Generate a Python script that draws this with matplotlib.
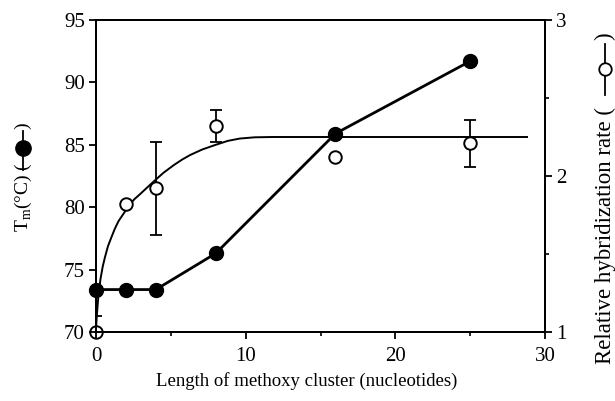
import matplotlib
matplotlib.use("Agg")
import matplotlib.pyplot as plt
from matplotlib.lines import Line2D

plt.rcParams['font.family'] = ['Liberation Serif', 'DejaVu Serif']
plt.rcParams['mathtext.fontset'] = 'custom'
plt.rcParams['mathtext.rm'] = 'Liberation Serif'

# Data
length_tm = [0, 2, 4, 8, 16, 25]
tm_values = [73.4, 73.4, 73.4, 76.3, 85.9, 91.7]

length_rate = [0, 2, 4, 8, 16, 25]
rate_values = [1.0, 1.82, 1.92, 2.32, 2.12, 2.21]
rate_err = [0.1, 0.0, 0.3, 0.1, 0.0, 0.15]

curve_x = [0, 0.05, 0.15, 0.3, 0.45, 0.6, 0.8, 1.0, 1.25, 1.5, 1.85, 2.2, 2.55, 2.9,
           3.35, 3.8, 4.5, 5.2, 5.75, 6.3, 7.1, 8.0, 8.8, 9.6, 10.6, 11.8, 28.8]
curve_rate = [1.02, 1.10, 1.22, 1.34, 1.42, 1.48, 1.55, 1.60, 1.66, 1.71, 1.76, 1.81,
              1.85, 1.88, 1.92, 1.96, 2.02, 2.07, 2.105, 2.135, 2.17, 2.20, 2.225, 2.24,
              2.248, 2.25, 2.25]

x_ticks = [0, 10, 20, 30]
left_ticks = [70, 75, 80, 85, 90, 95]
right_ticks = [1, 2, 3]

fig = plt.figure(figsize=(6.15, 4.01), dpi=100)
ax = fig.add_axes([96/615, 1-332/401, (545-96)/615, (332-20)/401])
ax2 = ax.twinx()

fs_tick = 15
fs_xlabel = 13.5
# Rate curve + points (right axis)
ax2.plot(curve_x, curve_rate, color='black', lw=1.4, zorder=2)
eb_x = [x for x, e in zip(length_rate, rate_err) if e > 0]
eb_y = [y for y, e in zip(rate_values, rate_err) if e > 0]
eb_e = [e for e in rate_err if e > 0]
ax2.errorbar(eb_x, eb_y, yerr=eb_e, fmt='none', ecolor='black', elinewidth=1.3,
             capsize=4, capthick=1.3, zorder=3)
ax2.plot(length_rate, rate_values, 'o', ms=9, mfc='white', mec='black', mew=1.4,
         zorder=4, clip_on=False)

# Tm line (left axis)
ax.plot(length_tm, tm_values, '-o', color='black', lw=2.0, ms=10, zorder=5, clip_on=False)
ax.set_zorder(ax2.get_zorder() + 1)
ax.patch.set_visible(False)

ax.set_xlim(0, 30)
ax.set_ylim(70, 95)
ax2.set_ylim(1, 3)
ax.set_xticks(x_ticks)
ax.set_xticks([5, 15, 25], minor=True)
ax.set_yticks(left_ticks)
ax2.set_yticks(right_ticks)
ax2.set_yticks([1.5, 2.5], minor=True)

for a in (ax, ax2):
    for s in a.spines.values():
        s.set_linewidth(1.4)
ax.tick_params(axis='both', which='major', direction='out', length=5, width=1.3,
               labelsize=fs_tick, pad=3)
ax.tick_params(axis='x', which='minor', direction='out', length=3, width=1.2)
ax.tick_params(axis='x', which='major', pad=6)
ax2.tick_params(axis='y', which='major', direction='out', length=5, width=1.3,
                labelsize=fs_tick, pad=3)
ax2.tick_params(axis='y', which='minor', direction='out', length=3, width=1.2)

ax.set_xlabel('Length of methoxy cluster (nucleotides)', fontsize=fs_xlabel, labelpad=5.5)
ax.xaxis.set_label_coords(0.47, -0.158)
ax.xaxis.label.set_va('center')

# Left y label with symbol
fs_left = 14
fig.text(23/615, 1-232/401, 'T$_{\\rm m}$(°C) (', rotation=90, rotation_mode='anchor',
         ha='left', va='center', fontsize=fs_left)
fig.add_artist(Line2D([23/615, 23/615], [1-170/401, 1-131/401], color='black', lw=1.3))
fig.add_artist(Line2D([23/615], [1-148/401], marker='o', ms=11, color='black'))
fig.text(23/615, 1-129/401, ')', rotation=90, rotation_mode='anchor',
         ha='left', va='center', fontsize=fs_left)

# Right y label with symbol
fs_right = 16.5
fig.text(605/615, 1-364/401, 'Relative hybridization rate (', rotation=90,
         rotation_mode='anchor', ha='left', va='center', fontsize=fs_right)
fig.add_artist(Line2D([605/615, 605/615], [1-95/401, 1-44/401], color='black', lw=1.3))
fig.add_artist(Line2D([605/615], [1-69/401], marker='o', ms=9, mfc='white',
                      mec='black', mew=1.3))
fig.text(605/615, 1-40/401, ')', rotation=90, rotation_mode='anchor',
         ha='left', va='center', fontsize=fs_right)

fig.savefig('out.png', dpi=100)
